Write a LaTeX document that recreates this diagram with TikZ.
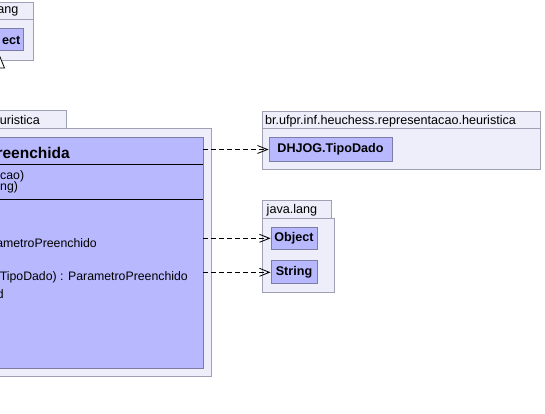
\documentclass[tikz,border=0pt]{standalone}
\usepackage{fontspec}
\setmainfont{Liberation Sans}
\usetikzlibrary{arrows.meta}
\definecolor{pkgfill}{HTML}{EEEEFA}
\definecolor{pkgline}{HTML}{A0A0B4}
\definecolor{clsfill}{HTML}{B8B8FF}
\definecolor{clsline}{HTML}{7C7CA4}
\tikzset{
  pkgbox/.style={fill=pkgfill,draw=pkgline,line width=1pt},
  clsbox/.style={fill=clsfill,draw=clsline,line width=1pt},
  pkglabel/.style={anchor=west,inner sep=0pt,font=\fontsize{12.6}{14}\selectfont},
  boxlabel/.style={inner sep=0pt,font=\bfseries\fontsize{12.6}{15}\selectfont},
  member/.style={anchor=east,inner sep=0pt,font=\fontsize{12.3}{14}\selectfont},
  depend/.style={dashed,dash pattern=on 5pt off 3pt,line width=0.8pt,-{Straight Barb[length=10pt,width=8pt,line width=0.8pt]}},
}
\begin{document}
\begin{tikzpicture}[x=1pt,y=-1pt]
\useasboundingbox (0,0) rectangle (545,414);
% top-left package java.lang (partial)
\path[pkgbox] (-10,3) rectangle (33,20);
\path[pkgbox] (-10,20) rectangle (33,61);
\node[pkglabel,anchor=east] (tlpkg) at (18.5,11.5) {ang};
\path[clsbox] (-10,29) rectangle (23,51);
\node[boxlabel,anchor=east] (tlobj) at (20.5,40) {ect};
\draw[line width=0.8pt,fill=white] (-2,52) -- (4.5,68) -- (-8.5,68) -- cycle;
% main package
\path[pkgbox] (-10,111) rectangle (66,129);
\path[pkgbox] (-10,129) rectangle (211,376);
\node[pkglabel,anchor=east] (mainpkg) at (40,120) {uristica};
\path[clsbox] (-10,138) rectangle (203,368);
\coordinate (cls) at (203,253);
\draw[line width=1pt] (-10,164) -- (203,164);
\draw[line width=1pt] (-10,199) -- (203,199);
\node[member,font=\bfseries\fontsize{15.5}{18}\selectfont] (title) at (70,152.5) {reenchida};
\node[member,anchor=west] (a1) at (0,176) {cao)};
\node[member,anchor=west] (a2) at (0,187.5) {ng)};
\node[member] (o1) at (97,243) {arametroPreenchido};
\node[member] (o2) at (188,277) {(TipoDado) : ParametroPreenchido};
\node[member] (o3) at (4,294) {d};
% heuristica package
\path[pkgbox] (262,112) rectangle (540,129);
\path[pkgbox] (262,129) rectangle (540,169);
\node[pkglabel] (hpkg) at (265,121) {br.ufpr.inf.heuchess.representacao.heuristica};
\node[clsbox,boxlabel,minimum width=123pt,minimum height=23pt,inner sep=0pt] (tipo) at (330.5,149.5) {DHJOG.TipoDado};
% java.lang package
\path[pkgbox] (262,200) rectangle (331,218);
\path[pkgbox] (262,218) rectangle (334,292);
\node[pkglabel] (jpkg) at (266.5,210) {java.lang};
\node[clsbox,boxlabel,minimum width=46pt,minimum height=22.5pt,inner sep=0pt] (obj) at (294,238.3) {Object};
\node[clsbox,boxlabel,minimum width=46pt,minimum height=23pt,inner sep=0pt] (str) at (294,272.3) {String};
% dependencies
\draw[depend] (cls |- tipo) -- (tipo.west);
\draw[depend] (cls |- obj) -- (obj.west);
\draw[depend] (cls |- str) -- (str.west);
\end{tikzpicture}
\end{document}
